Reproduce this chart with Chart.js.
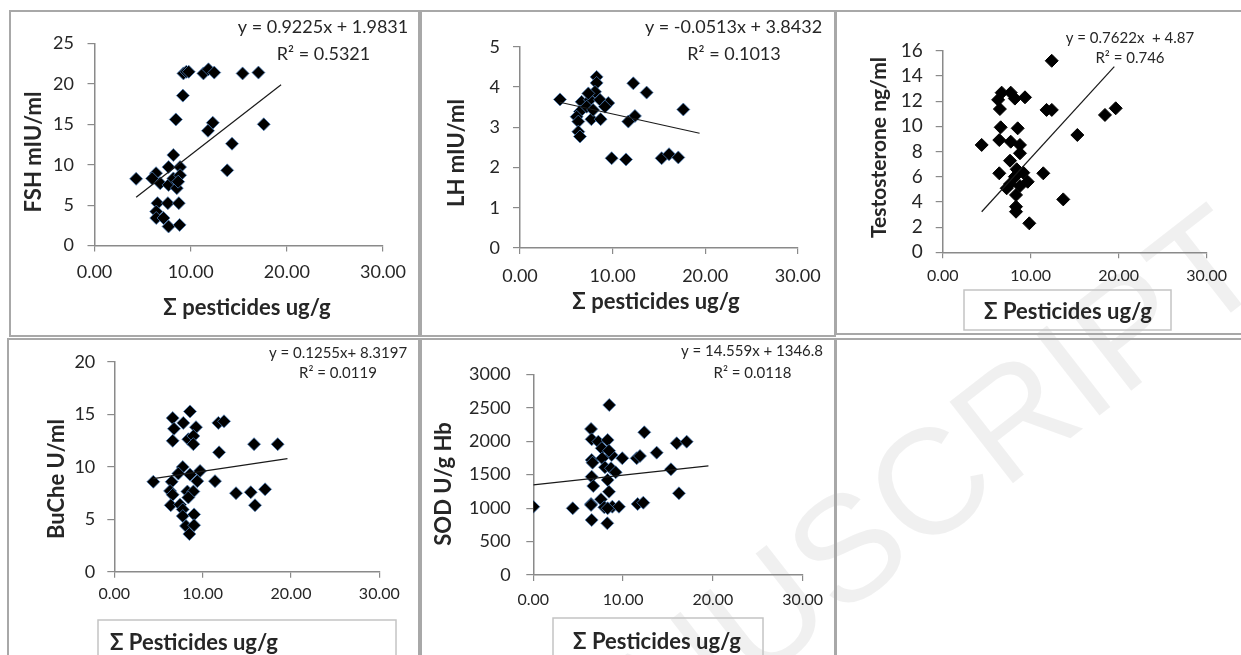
<!DOCTYPE html>
<html>
<head>
<meta charset="utf-8">
<script src="https://cdn.jsdelivr.net/npm/chart.js@4.4.1/dist/chart.umd.min.js"></script>
<style>
    html, body { margin: 0; padding: 0; background: #fff; }
    body { width: 1241px; height: 655px; position: relative; overflow: hidden; font-family: Lato, sans-serif; }
    .cell { position: absolute; box-sizing: border-box; border: 2px solid #a8a8a8; }
    canvas { position: absolute; }
    .wm {
        position: absolute; left: 850px; top: 545px; white-space: nowrap;
        font: 150px "Liberation Sans", sans-serif; color: rgba(0, 0, 0, 0.06);
        transform: translate(-50%, -50%) rotate(-38deg);
    }
</style>
</head>
<body>
<div class="wm">MANUSCRIPT</div>
<div class="cell" style="left:9px;top:10px;width:411px;height:327px"></div>
<div class="cell" style="left:420px;top:10px;width:416px;height:327px"></div>
<div class="cell" style="left:835px;top:10px;width:420px;height:325px"></div>
<div class="cell" style="left:7px;top:338px;width:413px;height:330px"></div>
<div class="cell" style="left:420px;top:338px;width:416px;height:330px"></div>
<div class="cell" style="left:835px;top:338px;width:420px;height:330px"></div>
<canvas id="fsh-chart"></canvas>
<canvas id="lh-chart"></canvas>
<canvas id="testo-chart"></canvas>
<canvas id="buche-chart"></canvas>
<canvas id="sod-chart"></canvas>
<script>
// 数据
const fshX = [9.25, 9.55, 9.8, 11.33, 11.85, 12.45, 15.4, 17.05, 9.19, 8.46, 12.3, 11.8, 17.6, 14.3, 8.2, 13.8, 7.7, 8.9, 4.33, 6.4, 6.0, 6.83, 7.7, 8.2, 8.9, 8.56, 8.7, 6.55, 7.63, 8.77, 6.42, 6.42, 7.18, 7.7, 8.85];
const fshY = [21.3, 21.5, 21.5, 21.3, 21.8, 21.4, 21.3, 21.4, 18.55, 15.6, 15.2, 14.2, 15.0, 12.6, 11.2, 9.3, 9.7, 9.7, 8.25, 8.95, 8.3, 7.7, 7.5, 8.3, 8.7, 7.1, 7.9, 5.24, 5.24, 5.24, 4.2, 3.4, 3.4, 2.35, 2.55];
const fshTrendX = [4.33, 19.4];
const fshTrendY = [5.98, 19.9];

const lhX = [4.32, 8.28, 8.28, 8.1, 6.66, 7.56, 8.64, 9.54, 9.18, 6.48, 6.12, 6.3, 7.71, 8.71, 6.3, 6.48, 12.24, 13.68, 17.64, 12.42, 11.7, 9.9, 11.45, 15.3, 16.1, 17.1, 7.38, 7.2, 7.9];
const lhY = [3.69, 4.25, 4.1, 3.88, 3.63, 3.68, 3.68, 3.6, 3.51, 3.39, 3.26, 3.14, 3.2, 3.2, 2.89, 2.77, 4.09, 3.86, 3.44, 3.28, 3.14, 2.23, 2.2, 2.23, 2.33, 2.25, 3.84, 3.51, 3.43];
const lhTrendX = [4.3, 19.4];
const lhTrendY = [3.62, 2.85];

const testoX = [12.39, 6.7, 7.73, 9.35, 8.2, 6.3, 6.5, 11.8, 12.4, 18.44, 19.66, 6.59, 8.52, 4.43, 6.43, 7.73, 8.78, 8.78, 15.3, 7.65, 6.43, 11.43, 9.16, 8.41, 7.65, 8.78, 9.66, 8.33, 13.7, 8.33, 8.33, 9.84, 7.27, 8.2];
const testoY = [15.2, 12.67, 12.67, 12.3, 12.2, 12.1, 11.37, 11.3, 11.3, 10.9, 11.43, 9.92, 9.84, 8.52, 8.91, 8.78, 8.52, 7.86, 9.31, 7.27, 6.27, 6.27, 6.32, 6.59, 5.42, 5.26, 5.6, 4.55, 4.2, 3.62, 3.22, 2.3, 5.08, 6.0];
const testoTrendX = [4.43, 19.5];
const testoTrendY = [3.22, 14.73];

const bucheX = [6.61, 8.57, 7.81, 6.76, 9.25, 6.61, 8.38, 8.95, 8.95, 11.78, 12.42, 11.86, 15.82, 18.5, 4.42, 7.75, 8.57, 9.71, 6.5, 9.4, 11.4, 6.31, 6.61, 8.27, 8.95, 8.38, 13.78, 15.45, 17.07, 15.93, 6.39, 7.44, 7.75, 7.75, 9.03, 8.12, 9.03, 8.5, 7.25];
const bucheY = [14.64, 15.27, 14.18, 13.62, 13.77, 12.47, 12.62, 12.93, 12.15, 14.18, 14.33, 11.37, 12.15, 12.15, 8.57, 9.97, 9.25, 9.6, 8.57, 8.63, 8.63, 7.7, 7.33, 7.64, 7.64, 7.07, 7.48, 7.57, 7.85, 6.33, 6.33, 6.39, 5.93, 5.3, 5.46, 4.36, 4.43, 3.59, 9.35];
const bucheTrendX = [4.42, 19.6];
const bucheTrendY = [8.87, 10.78];

const sodX = [0, 4.39, 6.43, 6.5, 8.24, 8.46, 6.43, 6.5, 7.24, 8.28, 7.62, 8.73, 9.91, 11.51, 11.88, 12.36, 13.74, 15.97, 17.08, 15.33, 16.22, 6.5, 6.6, 7.68, 7.98, 8.65, 9.17, 6.5, 6.68, 8.28, 8.43, 7.54, 6.43, 7.91, 8.8, 9.54, 11.62, 12.25, 8.28, 8.43];
const sodY = [1021, 997, 1061, 822, 773, 2541, 2183, 2028, 1993, 2018, 1894, 1794, 1745, 1745, 1779, 2133, 1829, 1969, 1993, 1580, 1221, 1719, 1679, 1745, 1610, 1595, 1535, 1470, 1330, 1420, 1245, 1132, 1047, 1012, 1021, 1021, 1061, 1081, 997, 1858];
const sodTrendX = [0, 19.5];
const sodTrendY = [1347, 1631];

const xTickLabels = ['0.00', '10.00', '20.00', '30.00'];
const eqFsh = ['y = 0.9225x + 1.9831', 'R² = 0.5321'];
const eqLh = ['y = -0.0513x + 3.8432', 'R² = 0.1013'];
const eqTesto = ['y = 0.7622x  + 4.87', 'R² = 0.746'];
const eqBuche = ['y = 0.1255x+ 8.3197', 'R² = 0.0119'];
const eqSod = ['y = 14.559x + 1346.8', 'R² = 0.0118'];

const TEXT = '#262626';
const AXIS = '#8a8a8a';

// 文字插件: 方程, 坐标轴标题, 标题框
const panelText = {
    id: 'panelText',
    afterDraw(chart, args, opts) {
        const ctx = chart.ctx;
        const ox = opts.offset[0], oy = opts.offset[1];
        if (opts.box) {
            const b = opts.box;
            ctx.save();
            ctx.strokeStyle = '#c4c4c4';
            ctx.lineWidth = 1.5;
            ctx.strokeRect(b[0] - ox, b[1] - oy, b[2] - b[0], b[3] - b[1]);
            ctx.restore();
        }
        opts.items.forEach(it => {
            ctx.save();
            ctx.font = it.font;
            ctx.fillStyle = TEXT;
            ctx.textAlign = it.align || 'center';
            ctx.textBaseline = 'middle';
            ctx.translate(it.x - ox, it.y - oy);
            if (it.rotate) ctx.rotate(it.rotate);
            ctx.fillText(it.text, 0, 0);
            ctx.restore();
        });
    }
};

const zip = (xs, ys) => xs.map((x, i) => ({ x: x, y: ys[i] }));

// 创建图表
function createPanel(p) {
    const canvas = document.getElementById(p.id);
    const [pl, pt, pw, ph] = p.panel;
    const [al, at, ar, ab] = p.area;
    canvas.width = pw;
    canvas.height = ph;
    canvas.style.left = pl + 'px';
    canvas.style.top = pt + 'px';

    new Chart(canvas.getContext('2d'), {
        type: 'scatter',
        data: {
            datasets: [
                {
                    data: zip(p.trendX, p.trendY),
                    showLine: true,
                    borderColor: '#1a1a1a',
                    borderWidth: 1.2,
                    pointRadius: 0,
                    order: 0
                },
                {
                    data: zip(p.xs, p.ys),
                    pointStyle: 'rectRot',
                    pointRadius: 6.5,
                    backgroundColor: '#000',
                    borderColor: p.glow,
                    borderWidth: 1,
                    order: 1
                }
            ]
        },
        options: {
            responsive: false,
            animation: false,
            events: [],
            layout: { padding: { top: at - pt, right: pl + pw - ar, left: 0, bottom: 0 } },
            plugins: {
                legend: { display: false },
                tooltip: { enabled: false },
                panelText: { offset: [pl, pt], items: p.items, box: p.box }
            },
            scales: {
                x: {
                    type: 'linear', min: 0, max: 30,
                    afterFit(s) { s.height = pt + ph - ab; },
                    ticks: {
                        stepSize: 10,
                        callback: (v) => xTickLabels[v / 10],
                        color: TEXT,
                        font: { family: 'Lato', size: p.xFont },
                        padding: p.xPad,
                        maxRotation: 0,
                        autoSkip: false
                    },
                    grid: { drawOnChartArea: false, tickLength: 6, color: AXIS, lineWidth: 1.2 },
                    border: { color: AXIS, width: 1.5 }
                },
                y: {
                    min: p.yMin, max: p.yMax,
                    afterFit(s) { s.width = al - pl; },
                    ticks: {
                        stepSize: p.yStep,
                        callback: (v) => String(v),
                        color: TEXT,
                        font: { family: 'Lato', size: p.yFont },
                        padding: p.yPad,
                        autoSkip: false
                    },
                    grid: { drawOnChartArea: false, tickLength: 7, color: AXIS, lineWidth: 1.2 },
                    border: { color: AXIS, width: 1.5 }
                }
            }
        },
        plugins: [panelText]
    });
}

const GLOW = 'rgba(79, 129, 189, 0.75)';
const vert = -Math.PI / 2;

createPanel({
    id: 'fsh-chart', panel: [10, 11, 408, 326], area: [94.5, 43.5, 383, 245.5],
    xs: fshX, ys: fshY, trendX: fshTrendX, trendY: fshTrendY, glow: GLOW,
    yMin: 0, yMax: 25, yStep: 5, xFont: 18, yFont: 18, xPad: 10, yPad: 13.5,
    items: [
        { text: eqFsh[0], x: 323, y: 27, font: '18px Lato' },
        { text: eqFsh[1], x: 323.5, y: 54, font: '18px Lato' },
        { text: 'FSH mIU/ml', x: 34, y: 152, font: 'bold 22px Lato', rotate: vert },
        { text: 'Σ pesticides ug/g', x: 247, y: 308, font: 'bold 22px Lato' }
    ]
});

createPanel({
    id: 'lh-chart', panel: [421, 11, 413, 326], area: [520, 46.7, 797.7, 248],
    xs: lhX, ys: lhY, trendX: lhTrendX, trendY: lhTrendY, glow: GLOW,
    yMin: 0, yMax: 5, yStep: 1, xFont: 18, yFont: 18, xPad: 11, yPad: 13,
    items: [
        { text: eqLh[0], x: 733.5, y: 27, font: '18px Lato' },
        { text: eqLh[1], x: 734, y: 54, font: '18px Lato' },
        { text: 'LH mIU/ml', x: 457, y: 153, font: 'bold 22px Lato', rotate: vert },
        { text: 'Σ pesticides ug/g', x: 656, y: 302, font: 'bold 22px Lato' }
    ]
});

createPanel({
    id: 'testo-chart', panel: [836, 11, 405, 322], area: [942.7, 50.7, 1206.7, 252.3],
    xs: testoX, ys: testoY, trendX: testoTrendX, trendY: testoTrendY, glow: '#000',
    yMin: 0, yMax: 16, yStep: 2, xFont: 16, yFont: 19, xPad: 8, yPad: 13,
    box: [964, 290, 1171, 330],
    items: [
        { text: eqTesto[0], x: 1130, y: 38, font: '15px Lato' },
        { text: eqTesto[1], x: 1130, y: 58.5, font: '15px Lato' },
        { text: 'Testosterone ng/ml', x: 879, y: 147.5, font: 'bold 21px Lato', rotate: vert },
        { text: 'Σ Pesticides ug/g', x: 1068, y: 312, font: 'bold 22px Lato' }
    ]
});

createPanel({
    id: 'buche-chart', panel: [8, 339, 412, 316], area: [114.3, 357.7, 379.3, 571.7],
    xs: bucheX, ys: bucheY, trendX: bucheTrendX, trendY: bucheTrendY, glow: GLOW,
    yMin: 0, yMax: 20, yStep: 5, xFont: 16, yFont: 18, xPad: 7, yPad: 12,
    box: [98, 620, 396, 662],
    items: [
        { text: eqBuche[0], x: 338, y: 353, font: '15px Lato' },
        { text: eqBuche[1], x: 338, y: 373.5, font: '15px Lato' },
        { text: 'BuChe U/ml', x: 57, y: 479, font: 'bold 22px Lato', rotate: vert },
        { text: 'Σ Pesticides ug/g', x: 110, y: 643, font: 'bold 22px Lato', align: 'left' }
    ]
});

createPanel({
    id: 'sod-chart', panel: [421, 339, 413, 316], area: [533.3, 374.3, 802.7, 575],
    xs: sodX, ys: sodY, trendX: sodTrendX, trendY: sodTrendY, glow: GLOW,
    yMin: 0, yMax: 3000, yStep: 500, xFont: 16, yFont: 18, xPad: 9, yPad: 15.5,
    box: [553, 618, 763, 662],
    items: [
        { text: eqSod[0], x: 752, y: 351.5, font: '15px Lato' },
        { text: eqSod[1], x: 752.5, y: 373, font: '15px Lato' },
        { text: 'SOD U/g Hb', x: 444, y: 484, font: 'bold 22px Lato', rotate: vert },
        { text: 'Σ Pesticides ug/g', x: 657, y: 642, font: 'bold 22px Lato' }
    ]
});
</script>
</body>
</html>
